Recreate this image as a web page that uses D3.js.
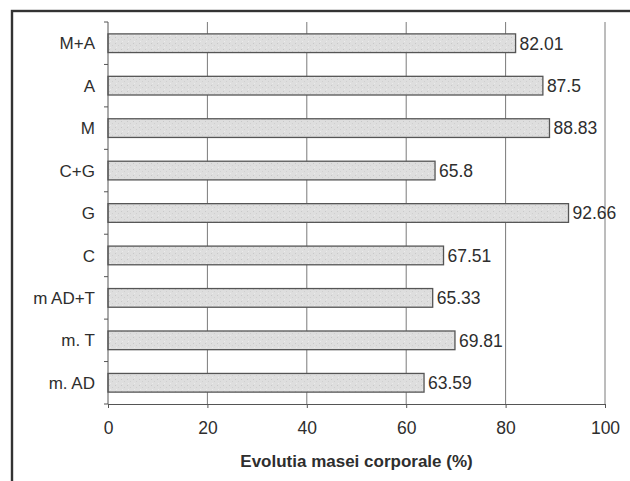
<!DOCTYPE html>
<html>
<head>
<meta charset="utf-8">
<script src="https://cdn.jsdelivr.net/npm/d3@7/dist/d3.min.js"></script>
<style>
  html, body { margin: 0; padding: 0; background: #fff; }
  svg { display: block; }
  text { font-family: "Liberation Sans", Arial, sans-serif; fill: #2e2e2e; }
</style>
</head>
<body>
<svg id="chart" width="630" height="481"></svg>
<script>
const categories = ["M+A", "A", "M", "C+G", "G", "C", "m AD+T", "m. T", "m. AD"];
const values = [82.01, 87.5, 88.83, 65.8, 92.66, 67.51, 65.33, 69.81, 63.59];
const xTicks = [0, 20, 40, 60, 80, 100];
const xTitle = "Evolutia masei corporale (%)";

const svg = d3.select("#chart");
const margin = { left: 108, top: 22 };
const axisY = 404;

// bar texture pattern
const defs = svg.append("defs");
const pat = defs.append("pattern").attr("id", "tex").attr("patternUnits", "userSpaceOnUse")
  .attr("width", 6).attr("height", 6);
pat.append("rect").attr("width", 6).attr("height", 6).attr("fill", "#dedede");
pat.append("rect").attr("x", 1).attr("y", 1).attr("width", 1).attr("height", 1).attr("fill", "#c8c8c8");
pat.append("rect").attr("x", 4).attr("y", 3).attr("width", 1).attr("height", 1).attr("fill", "#cfcfcf");
pat.append("rect").attr("x", 2).attr("y", 5).attr("width", 1).attr("height", 1).attr("fill", "#ebebeb");

// outer frame (cut off at right and bottom)
svg.append("rect")
  .attr("x", 12).attr("y", 11)
  .attr("width", 700).attr("height", 600)
  .attr("fill", "none").attr("stroke", "#333").attr("stroke-width", 2.4);

const x = d3.scaleLinear().domain([0, 100]).range([margin.left, 605]);
const y = d3.scaleBand().domain(categories).range([margin.top, axisY]).paddingInner(0.56).paddingOuter(0.28);

// gridlines
svg.append("g").selectAll("line")
  .data(xTicks.filter(t => t > 0))
  .join("line")
  .attr("x1", d => x(d)).attr("x2", d => x(d))
  .attr("y1", margin.top).attr("y2", axisY)
  .attr("stroke", "#7a7a7a").attr("stroke-width", 1);

// bars
svg.append("g").selectAll("rect")
  .data(values)
  .join("rect")
  .attr("x", x(0))
  .attr("y", (d, i) => y(categories[i]))
  .attr("width", d => x(d) - x(0))
  .attr("height", y.bandwidth())
  .attr("fill", "url(#tex)")
  .attr("stroke", "#555")
  .attr("stroke-width", 1.3);

// value labels
svg.append("g").selectAll("text")
  .data(values)
  .join("text")
  .attr("x", d => x(d) + 4)
  .attr("y", (d, i) => y(categories[i]) + y.bandwidth() / 2)
  .attr("dy", "0.36em")
  .attr("font-size", 17.5)
  .text(d => d);

// x axis
const xAxis = d3.axisBottom(x).tickValues(xTicks).tickSize(4).tickPadding(14).tickFormat(d3.format("d"));
const gx = svg.append("g").attr("transform", `translate(0,${axisY})`).call(xAxis);
gx.select(".domain").attr("stroke", "#555");
gx.selectAll(".tick line").attr("stroke", "#555");
gx.selectAll(".tick text").attr("font-size", 17.5).attr("fill", "#2e2e2e").attr("font-family", "Liberation Sans, Arial, sans-serif");

// y axis
const yScaleTicks = d3.scaleLinear().domain([0, categories.length]).range([margin.top, axisY]);
const gyl = svg.append("g");
gyl.append("line").attr("x1", x(0)).attr("x2", x(0)).attr("y1", margin.top).attr("y2", axisY).attr("stroke", "#555");
gyl.selectAll("line.tk")
  .data(d3.range(categories.length + 1))
  .join("line").attr("class", "tk")
  .attr("x1", x(0) - 4).attr("x2", x(0))
  .attr("y1", d => yScaleTicks(d)).attr("y2", d => yScaleTicks(d))
  .attr("stroke", "#555");
gyl.selectAll("text")
  .data(categories)
  .join("text")
  .attr("x", 95)
  .attr("y", d => y(d) + y.bandwidth() / 2)
  .attr("dy", "0.36em")
  .attr("text-anchor", "end")
  .attr("font-size", 17)
  .text(d => d);

// x title
svg.append("text")
  .attr("x", (x(0) + x(100)) / 2)
  .attr("y", 467)
  .attr("text-anchor", "middle")
  .attr("font-size", 17)
  .attr("font-weight", "bold")
  .text(xTitle);
</script>
</body>
</html>
